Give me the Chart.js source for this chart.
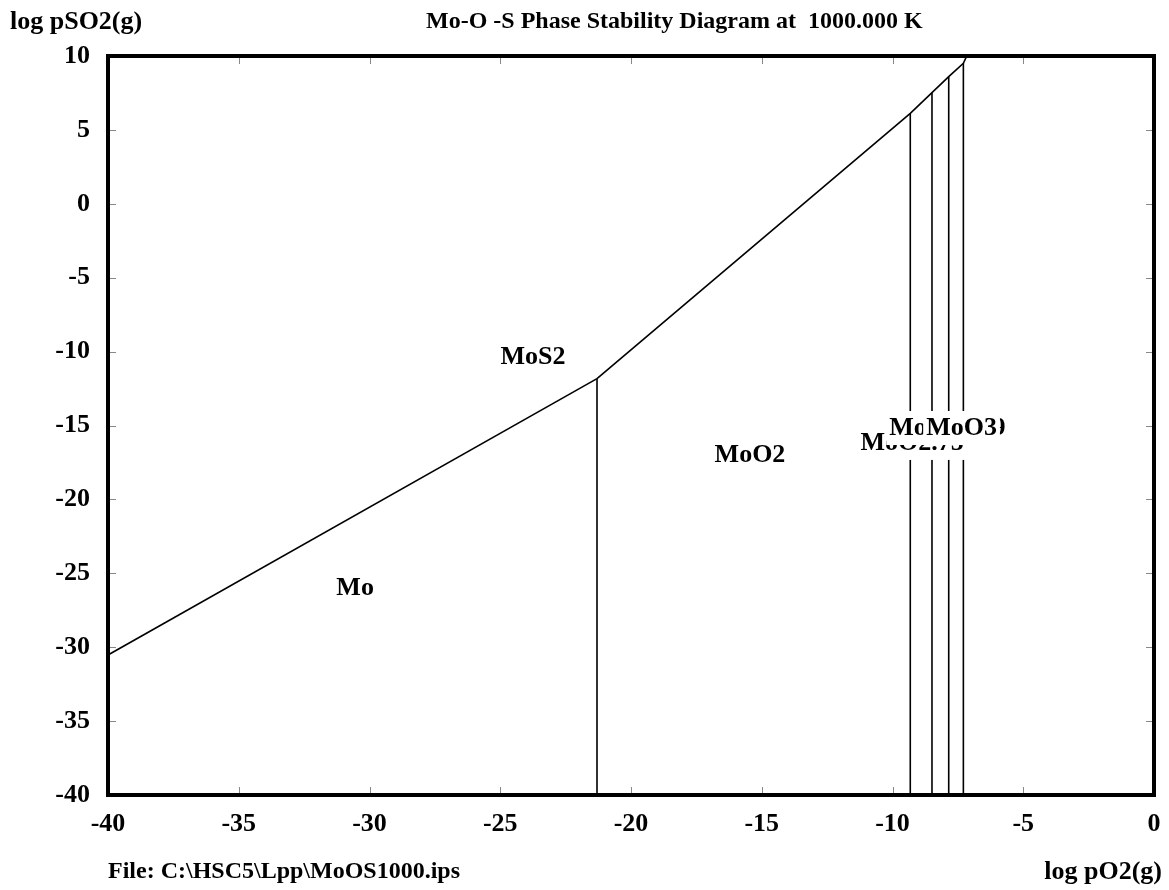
<!DOCTYPE html>
<html>
<head>
<meta charset="utf-8">
<title>Mo-O-S Phase Stability Diagram</title>
<script src="https://cdn.jsdelivr.net/npm/chart.js@4/dist/chart.umd.min.js"></script>
<style>
    html, body { margin: 0; padding: 0; background: #fff; }
    #wrap { width: 1169px; height: 890px; }
</style>
</head>
<body>
<div id="wrap"><canvas id="phaseChart" width="1169" height="890"></canvas></div>
<script>
// Mo / MoS2 boundary
const moSulfidePO2 = [-40, -21.3];
const moSulfidePSO2 = [-30.53, -11.83];

// MoS2 / oxide boundary, with a kink at each oxide field
const sulfideOxidePO2 = [-21.3, -9.32, -8.49, -7.85, -7.29, -7.16];
const sulfideOxidePSO2 = [-11.83, 6.12, 7.52, 8.6, 9.51, 10];

// vertical boundaries, running from the kink down to the bottom of the axis
const verticalPO2 = [-21.3, -9.32, -8.49, -7.85, -7.29];
const verticalTopPSO2 = [-11.83, 6.12, 7.52, 8.6, 9.51];
const verticalBottomPSO2 = -40;

// stability field labels
const fieldNames = ['Mo', 'MoS2', 'MoO2', 'MoO2.75', 'MoO2.889', 'MoO3'];
const fieldPO2 = [-30.55, -23.75, -15.45, -9.25, -7.9, -7.36];
const fieldPSO2 = [-26.0, -10.37, -17.0, -16.18, -15.17, -15.17];
const fieldBoxed = [false, false, false, true, true, true];

const xTicks = [-40, -35, -30, -25, -20, -15, -10, -5, 0];
const yTicks = [-40, -35, -30, -25, -20, -15, -10, -5, 0, 5, 10];

const FONT = "'Liberation Serif', 'Times New Roman', serif";

function lineSet(xs, ys) {
    return {
        data: xs.map((x, i) => ({ x: x, y: ys[i] })),
        showLine: true,
        borderColor: '#000',
        borderWidth: 1.6,
        pointRadius: 0,
        tension: 0,
        fill: false
    };
}

const datasets = [
    lineSet(moSulfidePO2, moSulfidePSO2),
    lineSet(sulfideOxidePO2, sulfideOxidePSO2)
];
verticalPO2.forEach((x, i) => {
    datasets.push(lineSet([x, x], [verticalTopPSO2[i], verticalBottomPSO2]));
});

// field names; the oxide ones sit on white boxes that hide the lines beneath
const fieldLabels = {
    id: 'fieldLabels',
    afterDatasetsDraw(chart) {
        const ctx = chart.ctx;
        const xs = chart.scales.x, ys = chart.scales.y;
        ctx.save();
        ctx.font = 'bold 26px ' + FONT;
        ctx.textAlign = 'center';
        ctx.textBaseline = 'middle';
        fieldNames.forEach((name, i) => {
            const px = xs.getPixelForValue(fieldPO2[i]);
            const py = ys.getPixelForValue(fieldPSO2[i]);
            if (fieldBoxed[i]) {
                const w = ctx.measureText(name).width;
                ctx.fillStyle = '#fff';
                ctx.fillRect(px - w / 2 - 3, py - 17, w + 6, 34);
            }
            ctx.fillStyle = '#000';
            ctx.fillText(name, px, py);
        });
        ctx.restore();
    }
};

// inward tick marks, heavy frame and the captions around the plot
const frame = {
    id: 'frame',
    afterDraw(chart) {
        const ctx = chart.ctx;
        const a = chart.chartArea;
        const xs = chart.scales.x, ys = chart.scales.y;
        ctx.save();
        ctx.strokeStyle = '#888';
        ctx.lineWidth = 1;
        ctx.beginPath();
        xTicks.forEach(v => {
            const px = Math.round(xs.getPixelForValue(v)) + 0.5;
            ctx.moveTo(px, a.top); ctx.lineTo(px, a.top + 8);
            ctx.moveTo(px, a.bottom); ctx.lineTo(px, a.bottom - 8);
        });
        yTicks.forEach(v => {
            const py = Math.round(ys.getPixelForValue(v)) + 0.5;
            ctx.moveTo(a.left, py); ctx.lineTo(a.left + 8, py);
            ctx.moveTo(a.right, py); ctx.lineTo(a.right - 8, py);
        });
        ctx.stroke();

        ctx.strokeStyle = '#000';
        ctx.lineWidth = 4;
        ctx.strokeRect(a.left, a.top, a.right - a.left, a.bottom - a.top);

        ctx.fillStyle = '#000';
        ctx.textBaseline = 'middle';
        ctx.font = 'bold 26px ' + FONT;
        ctx.textAlign = 'left';
        ctx.fillText('log pSO2(g)', 10, 22);
        ctx.font = 'bold 24px ' + FONT;
        ctx.fillText('Mo-O -S Phase Stability Diagram at  1000.000 K', 426, 22);
        ctx.fillText('File: C:\\HSC5\\Lpp\\MoOS1000.ips', 108, 872);
        ctx.textAlign = 'right';
        ctx.font = 'bold 26px ' + FONT;
        ctx.fillText('log pO2(g)', 1162, 872);
        ctx.restore();
    }
};

function axisTicks(values) {
    return function(scale) {
        scale.ticks = values.map(v => ({ value: v }));
    };
}

// fixed axis band sizes, no extra room for overhanging tick labels
function fixBand(prop, size) {
    return function(scale) {
        scale[prop] = size;
        scale.paddingLeft = 0;
        scale.paddingRight = 0;
        scale.paddingTop = 0;
        scale.paddingBottom = 0;
    };
}

new Chart(document.getElementById('phaseChart').getContext('2d'), {
    type: 'scatter',
    data: { datasets: datasets },
    options: {
        responsive: false,
        animation: false,
        layout: { padding: { top: 56, right: 15, left: 0, bottom: 0 } },
        plugins: {
            legend: { display: false },
            tooltip: { enabled: false }
        },
        scales: {
            x: {
                type: 'linear',
                min: -40,
                max: 0,
                afterBuildTicks: axisTicks(xTicks),
                afterFit: fixBand('height', 95),
                grid: { display: false, drawTicks: false },
                border: { display: false },
                ticks: {
                    color: '#000',
                    padding: 14,
                    maxRotation: 0,
                    autoSkip: false,
                    font: { family: FONT, size: 26, weight: 'bold' }
                }
            },
            y: {
                type: 'linear',
                min: -40,
                max: 10,
                afterBuildTicks: axisTicks(yTicks),
                afterFit: fixBand('width', 108),
                grid: { display: false, drawTicks: false },
                border: { display: false },
                ticks: {
                    color: '#000',
                    padding: 18,
                    autoSkip: false,
                    font: { family: FONT, size: 26, weight: 'bold' }
                }
            }
        }
    },
    plugins: [fieldLabels, frame]
});
</script>
</body>
</html>
